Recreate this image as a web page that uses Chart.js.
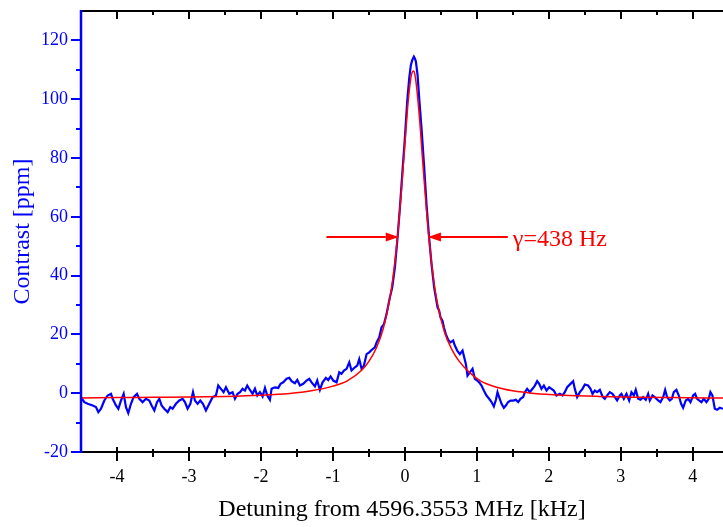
<!DOCTYPE html>
<html><head><meta charset="utf-8">
<script src="https://cdn.jsdelivr.net/npm/chart.js@4.4.1/dist/chart.umd.min.js"></script>
<style>html,body{margin:0;padding:0;background:#fff;}#wrap{width:723px;height:527px;}</style>
</head><body><div id="wrap"><canvas id="c" width="723" height="527"></canvas></div>
<script>
// measured contrast (blue), detuning in kHz
const measX = [
-4.5,-4.454,-4.407,-4.338,-4.292,-4.259,-4.222,-4.176,-4.130,-4.083,
-4.060,-4.014,-3.981,-3.944,-3.907,-3.875,-3.843,-3.806,-3.769,-3.722,
-3.690,-3.644,-3.597,-3.551,-3.519,-3.481,-3.444,-3.412,-3.380,-3.343,
-3.296,-3.259,-3.227,-3.181,-3.134,-3.088,-3.056,-3.019,-2.981,-2.944,
-2.917,-2.880,-2.843,-2.806,-2.764,-2.718,-2.671,-2.625,-2.593,-2.556,
-2.519,-2.486,-2.440,-2.394,-2.361,-2.324,
-2.29,-2.255,-2.222,-2.19,-2.153,-2.116,-2.083,-2.051,-2.014,-1.977,
-1.944,-1.912,-1.875,-1.852,-1.806,-1.759,-1.727,-1.69,-1.644,-1.606,
-1.574,-1.528,-1.495,-1.458,-1.412,-1.366,-1.329,-1.296,-1.25,-1.218,
-1.181,-1.144,-1.097,-1.065,-1.032,-0.995,-0.949,-0.912,-0.88,-0.847,
-0.81,-0.773,-0.741,-0.694,-0.662,-0.634,-0.602,-0.569,-0.532,-0.495,
-0.463,-0.417,-0.393,-0.356,
-0.324,-0.29,-0.255,-0.208,-0.176,-0.139,-0.102,-0.069,-0.037,0.0,
0.032,0.06,0.083,0.102,0.125,0.139,0.153,0.176,0.199,0.231,
0.269,0.301,0.333,0.37,0.407,0.454,
0.477,0.495,0.523,0.542,0.569,0.602,0.634,0.671,0.694,0.727,
0.764,0.801,0.824,0.847,0.870,0.903,0.940,0.972,1.005,1.032,
1.065,1.097,1.134,1.171,1.204,1.236,1.264,1.287,1.31,1.343,
1.375,1.403,1.435,1.468,1.505,1.542,1.574,1.606,1.644,1.667,
1.699,1.736,1.773,1.806,1.838,1.866,1.898,1.931,1.968,2.005,
2.037,2.069,2.106,
2.153,2.190,2.222,2.255,2.301,2.338,2.361,2.394,2.431,2.468,
2.5,2.546,2.579,2.607,2.639,2.671,2.709,2.746,2.778,2.810,
2.847,2.884,2.917,2.949,2.986,3.009,3.042,3.079,3.116,3.148,
3.181,3.208,3.241,3.273,3.310,3.347,3.380,3.403,3.440,3.472,
3.519,3.551,3.588,3.616,3.644,3.681,3.709,3.736,3.773,3.806,
3.838,3.866,3.903,3.935,3.968,4.005,4.033,4.060,4.088,4.120,
4.153,4.190,4.222,4.245,4.273,4.306,4.338,4.375,4.42
];
const measY = [
-1.35,-3.04,-3.61,-4.17,-4.74,-6.43,-5.3,-2.48,-0.78,-0.22,
-1.91,-4.17,-5.3,-2.48,-0.22,-4.74,-6.77,-3.61,-1.35,-0.22,
-1.91,-3.04,-1.91,-2.48,-4.17,-5.87,-3.04,-1.91,-4.17,-5.3,
-6.43,-4.74,-5.3,-3.61,-2.48,-1.91,-3.04,-5.3,-3.61,0.35,
-2.48,-3.61,-2.48,-3.61,-5.87,-3.61,-1.35,-0.78,2.6,1.47,
0.35,2.04,-0.22,0.35,-1.91,-0.22,
0.35,1.5,0.9,2.6,1.1,-0.2,1.5,-0.8,0.35,-1.1,
1.8,-0.8,-2.25,1.5,2.0,1.8,3.2,3.7,4.9,5.2,
4.1,3.4,4.5,2.6,3.2,4.3,4.9,3.7,2.3,4.3,
1.1,3.7,5.2,4.5,5.7,4.3,3.7,7.1,6.6,7.7,
8.3,10.5,7.7,8.8,9.4,11.6,8.3,9.4,13.3,13.9,
14.7,15.6,17.3,19.0,
22.4,23.5,26.9,32.6,35.9,42.7,52.9,63.1,74.4,86.8,
99.2,107.1,111.6,113.3,114.5,113.9,112.8,108.3,100.4,90.2,
76.6,64.2,54.0,43.9,35.9,29.2,
28.0,25.8,24.6,22.4,20.1,18.1,17.3,17.9,16.2,14.5,
13.3,14.5,12.2,9.95,6.0,7.1,8.3,4.9,4.3,3.7,
2.6,0.9,-0.8,-1.9,-3.0,-4.5,-2.3,0.35,-1.3,-3.6,
-4.97,-4.2,-3.0,-2.5,-2.5,-2.25,-3.0,-1.9,-1.3,0.35,
1.5,0.35,1.5,2.6,4.1,3.2,1.5,2.6,0.9,2.0,
1.5,0.9,-0.8,
-0.22,-0.78,0.35,2.04,3.17,4.07,1.47,-1.35,0.35,1.47,
2.95,2.6,1.47,-0.22,0.91,0.35,1.14,-1.13,-1.91,-0.78,
0.35,-0.22,-1.35,-2.48,-0.78,-0.22,-1.91,-0.22,-2.48,0.35,
-0.78,1.14,-1.91,-2.25,-1.35,-2.25,-0.22,-2.48,-0.78,-1.35,
-2.48,-3.04,-1.35,1.14,-1.35,-2.48,-1.91,0.35,1.14,-0.78,
-3.61,-4.97,-2.48,-1.91,-3.04,-0.78,-0.22,-1.91,-2.48,-3.04,
-1.91,-3.04,-1.91,0.35,-0.78,-5.3,-5.64,-4.97,-5.3
];
// Lorentzian fit (red)
const fitX = [
-4.5,-4,-3.5,-3,-2.5,-2,-1.6,-1.3,-1.0,-0.8,
-0.6,-0.5,-0.4,-0.3,-0.2,-0.15,-0.1,-0.05,0,0.05,
0.1,0.125,0.15,0.2,0.25,0.3,0.35,0.4,0.45,0.55,
0.65,0.75,0.9,1.05,1.25,1.5,1.8,2.2,2.7,3.2,
3.7,4.2,4.42
];
const fitY = [
-1.6,-1.5,-1.4,-1.3,-1.1,-0.7,-0.1,0.8,2.4,4.2,
7.8,10.8,15.2,22.0,33.5,42.4,53.8,68.3,84.8,100.4,
109.1,109.6,106.7,94.5,78.1,62.3,48.9,38.5,30.8,20.8,
15.0,11.0,7.0,4.2,2.2,0.8,-0.1,-0.7,-1.1,-1.35,
-1.5,-1.6,-1.63
];
const xTicks = [-4,-3,-2,-1,0,1,2,3,4];
const xMinorTicks = [-3.5,-2.5,-1.5,-0.5,0.5,1.5,2.5,3.5];
const yTicks = [-20,0,20,40,60,80,100,120];
const yMinorTicks = [-10,10,30,50,70,90,110];
// FWHM annotation
const arrowLevel = 53;
const arrowLeft = [-1.09, -0.085];
const arrowRight = [1.43, 0.32];
const widthLabel = 'γ=438 Hz';
const widthLabelX = 1.5;

const SERIF = "'Liberation Serif','Times New Roman',serif";

const deco = {
  id: 'deco',
  afterDatasetsDraw(chart) {
    const {ctx, scales: {x, y}} = chart;
    const seg = (x1, y1, x2, y2) => { ctx.beginPath(); ctx.moveTo(x1, y1); ctx.lineTo(x2, y2); ctx.stroke(); };
    ctx.save();
    ctx.strokeStyle = '#ff0000'; ctx.fillStyle = '#ff0000'; ctx.lineWidth = 2;
    const ay = Math.round(y.getPixelForValue(arrowLevel));
    [arrowLeft, arrowRight].forEach(([from, tip]) => {
      const p0 = x.getPixelForValue(from), p1 = x.getPixelForValue(tip);
      const dir = Math.sign(p1 - p0), hl = 13, hw = 4.5;
      seg(p0, ay, p1 - dir * hl, ay);
      ctx.beginPath();
      ctx.moveTo(p1, ay); ctx.lineTo(p1 - dir * hl, ay - hw); ctx.lineTo(p1 - dir * hl, ay + hw); ctx.closePath();
      ctx.fill();
    });
    ctx.font = '24px ' + SERIF; ctx.textAlign = 'left'; ctx.textBaseline = 'alphabetic';
    ctx.fillText(widthLabel, x.getPixelForValue(widthLabelX), ay + 9);
    ctx.restore();
  },
  afterDraw(chart) {
    const {ctx, chartArea: a, scales: {x, y}} = chart;
    const L = Math.round(a.left), R = Math.round(a.right), T = Math.round(a.top), B = Math.round(a.bottom);
    const seg = (x1, y1, x2, y2) => { ctx.beginPath(); ctx.moveTo(x1, y1); ctx.lineTo(x2, y2); ctx.stroke(); };
    ctx.save();
    ctx.strokeStyle = '#000'; ctx.lineWidth = 2;
    seg(L, T, R + 2, T);
    seg(L, B, R + 2, B);
    xTicks.forEach(v => { const p = Math.round(x.getPixelForValue(v)); seg(p, B - 5, p, B + 9); seg(p, T, p, T + 8); });
    xMinorTicks.forEach(v => { const p = Math.round(x.getPixelForValue(v)); seg(p, B - 3, p, B + 5); seg(p, T, p, T + 4); });
    ctx.strokeStyle = '#0000ff'; ctx.lineWidth = 2.5;
    seg(L, T - 1, L, B + 1);
    ctx.lineWidth = 2;
    yTicks.forEach(v => { const p = Math.round(y.getPixelForValue(v)); seg(L - 10, p, L, p); });
    yMinorTicks.forEach(v => { const p = Math.round(y.getPixelForValue(v)); seg(L - 5, p, L, p); });
    ctx.restore();
  }
};

new Chart(document.getElementById('c'), {
  type: 'line',
  data: {
    datasets: [
      { label: 'fit', data: fitX.map((v, i) => ({x: v, y: fitY[i]})), borderColor: '#ff0000', borderWidth: 1.5,
        pointRadius: 0, cubicInterpolationMode: 'monotone', fill: false, order: 0 },
      { label: 'data', data: measX.map((v, i) => ({x: v, y: measY[i]})), borderColor: '#0000ff', borderWidth: 2.2,
        pointRadius: 0, tension: 0, fill: false, order: 1 }
    ]
  },
  options: {
    responsive: false, animation: false, devicePixelRatio: 1,
    layout: {padding: {top: 11, right: 0, left: 0, bottom: 0}},
    plugins: {legend: {display: false}, tooltip: {enabled: false}},
    scales: {
      x: {
        type: 'linear', min: -4.5, max: 4.42,
        afterBuildTicks: s => { s.ticks = xTicks.map(v => ({value: v})); },
        afterFit: s => { s.height = 75; s.paddingLeft = 0; s.paddingRight = 0; },
        grid: {display: false, drawTicks: false},
        border: {display: false},
        ticks: {color: '#000', padding: 14, font: {family: SERIF, size: 18}, maxRotation: 0, autoSkip: false},
        title: {display: true, text: 'Detuning from 4596.3553 MHz [kHz]', color: '#000',
                font: {family: SERIF, size: 24}, padding: {top: 0, bottom: 3}}
      },
      y: {
        type: 'linear', min: -20, max: 130,
        afterBuildTicks: s => { s.ticks = yTicks.map(v => ({value: v})); },
        afterFit: s => { s.width = 81; s.paddingTop = 0; s.paddingBottom = 0; },
        grid: {display: false, drawTicks: false},
        border: {display: false},
        ticks: {color: '#0000ff', padding: 13, font: {family: SERIF, size: 18}, autoSkip: false},
        title: {display: true, text: 'Contrast [ppm]', color: '#0000ff',
                font: {family: SERIF, size: 24}, padding: {top: 8, bottom: 0}}
      }
    }
  },
  plugins: [deco]
});
</script></body></html>
